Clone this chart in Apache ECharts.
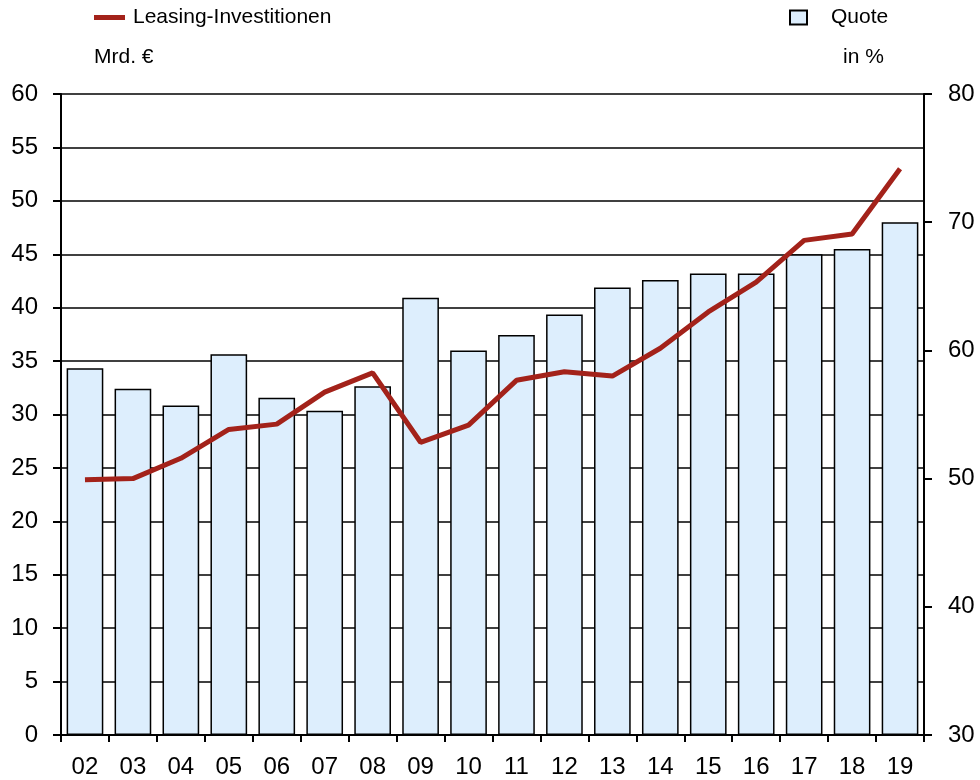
<!DOCTYPE html>
<html>
<head>
<meta charset="utf-8">
<script src="https://cdn.jsdelivr.net/npm/echarts@6/dist/echarts.min.js"></script>
<style>
html,body{margin:0;padding:0;background:#fff;}
#chart{width:980px;height:780px;}
</style>
</head>
<body>
<div id="chart"></div>
<script>
const categories = ['02','03','04','05','06','07','08','09','10','11','12','13','14','15','16','17','18','19'];
const leasingInvest = [23.9, 24.0, 25.9, 28.6, 29.1, 32.1, 33.9, 27.4, 29.0, 33.2, 34.0, 33.6, 36.2, 39.6, 42.4, 46.3, 46.9, 53.0];
const quote = [58.6, 57.0, 55.7, 59.7, 56.3, 55.3, 57.2, 64.1, 60.0, 61.2, 62.8, 64.9, 65.5, 66.0, 66.0, 67.5, 67.9, 70.0];
const lineName = 'Leasing-Investitionen';
const barName = 'Quote';
const leftUnit = 'Mrd. €';
const rightUnit = 'in %';

const FONT = '"Liberation Sans", Arial, sans-serif';
const chart = echarts.init(document.getElementById('chart'), null, {renderer: 'canvas'});
chart.setOption({
  animation: false,
  backgroundColor: '#ffffff',
  textStyle: {fontFamily: FONT, color: '#000'},
  title: [
    {text: leftUnit, left: 94, top: 47, padding: 0, textStyle: {fontFamily: FONT, fontSize: 21, fontWeight: 'normal', color: '#000'}},
    {text: rightUnit, left: 843, top: 47, padding: 0, textStyle: {fontFamily: FONT, fontSize: 21, fontWeight: 'normal', color: '#000'}}
  ],
  legend: [
    {
      data: [{name: lineName, icon: 'rect'}],
      left: 94, top: 7, padding: 0,
      itemWidth: 31, itemHeight: 5,
      textStyle: {fontFamily: FONT, fontSize: 21, color: '#000', padding: [0, 0, 0, 3]}
    },
    {
      data: [{name: barName, icon: 'rect'}],
      left: 789, top: 7, padding: 0,
      itemWidth: 17, itemHeight: 14,
      textStyle: {fontFamily: FONT, fontSize: 21, color: '#000', padding: [0, 0, 0, 19]}
    }
  ],
  grid: {left: 61, right: 56, top: 94, bottom: 45, containLabel: false},
  xAxis: {
    type: 'category',
    data: categories,
    boundaryGap: true,
    axisLine: {show: true, lineStyle: {color: '#000', width: 2}},
    axisTick: {show: true, inside: false, length: 7, alignWithLabel: false, lineStyle: {color: '#000', width: 2}},
    axisLabel: {fontFamily: FONT, fontSize: 24, color: '#000', margin: 20}
  },
  yAxis: [
    {
      type: 'value', min: 0, max: 60, interval: 5, position: 'left',
      axisLine: {show: true, lineStyle: {color: '#000', width: 2}},
      axisTick: {show: true, inside: false, length: 8, lineStyle: {color: '#000', width: 2}},
      axisLabel: {fontFamily: FONT, fontSize: 24, color: '#000', margin: 23},
      splitLine: {show: true, lineStyle: {color: '#000', width: 1.5}}
    },
    {
      type: 'value', min: 30, max: 80, interval: 10, position: 'right', startValue: 30,
      axisLine: {show: true, lineStyle: {color: '#000', width: 2}},
      axisTick: {show: true, inside: false, length: 8, lineStyle: {color: '#000', width: 2}},
      axisLabel: {fontFamily: FONT, fontSize: 24, color: '#000', margin: 24},
      splitLine: {show: false}
    }
  ],
  series: [
    {
      name: barName, type: 'bar', yAxisIndex: 1, data: quote,
      barCategoryGap: '23.5%',
      itemStyle: {color: '#ddeefd', borderColor: '#000', borderWidth: 1.5},
      z: 2
    },
    {
      name: lineName, type: 'line', yAxisIndex: 0, data: leasingInvest,
      symbol: 'none',
      lineStyle: {color: '#a3221a', width: 5},
      itemStyle: {color: '#a3221a'},
      z: 3
    }
  ]
});
</script>
</body>
</html>
